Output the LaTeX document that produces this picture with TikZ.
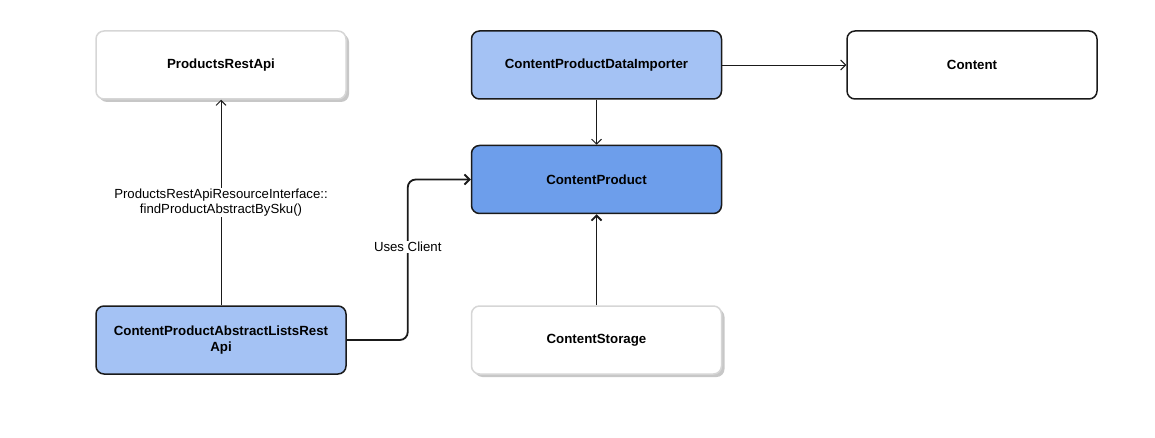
\documentclass[tikz,border=0pt]{standalone}
\usepackage{fontspec}
\setmainfont{Liberation Sans}
\usetikzlibrary{arrows.meta, positioning, shadows}
\definecolor{lightblue}{HTML}{A4C2F4}
\definecolor{midblue}{HTML}{6D9EEB}
\definecolor{boxline}{HTML}{1A1A1A}
\definecolor{paleline}{HTML}{D6D6D6}
\tikzstyle{block} = [rectangle, rounded corners=8pt, minimum width=250pt, minimum height=68pt, text centered, text width=240pt, draw=boxline, line width=1.5pt, font=\bfseries\fontsize{13.3}{16}\selectfont]
\tikzstyle{paleblock} = [block, fill=white, draw=paleline, drop shadow={shadow xshift=3pt, shadow yshift=-3pt, fill=black!22, opacity=1}]
\tikzstyle{arrow} = [draw=boxline, line width=0.9pt, -{Straight Barb[length=5pt,width=10pt]}]
\tikzstyle{thickarrow} = [arrow, line width=1.8pt]
\tikzstyle{lbl} = [fill=white, inner sep=1pt, align=center, font=\fontsize{13.2}{15}\selectfont]

\begin{document}
\begin{tikzpicture}[node distance=45pt and 124pt]
        \useasboundingbox (0,0) rectangle (1155pt,-438pt);
        % Nodes
        \node [block, fill=lightblue] (data_importer) at (596.5pt,-65pt) {ContentProductDataImporter};
        \node [block, fill=white, right=of data_importer] (content) {Content};
        \node [block, fill=midblue, below=of data_importer] (content_product) {ContentProduct};
        \node [paleblock, below=91pt of content_product] (content_storage) {ContentStorage};
        \node [paleblock, left=of data_importer] (products_api) {ProductsRestApi};
        \node [block, fill=lightblue, left=of content_storage] (abstract_lists) {ContentProductAbstractListsRest\\Api};

        % Arrows
        \draw [arrow] (data_importer) -- (content);
        \draw [arrow] (data_importer) -- (content_product);
        \draw [thickarrow] (content_storage) -- (content_product);
        \draw [arrow] (abstract_lists) -- (products_api) node[midway, lbl] {ProductsRestApiResourceInterface::\\findProductAbstractBySku()};
        \draw [thickarrow, rounded corners=8pt] (abstract_lists.east) -- ++(61pt,0) |- (content_product.west) node[pos=0.29, lbl] {Uses Client};
    \end{tikzpicture}
\end{document}
